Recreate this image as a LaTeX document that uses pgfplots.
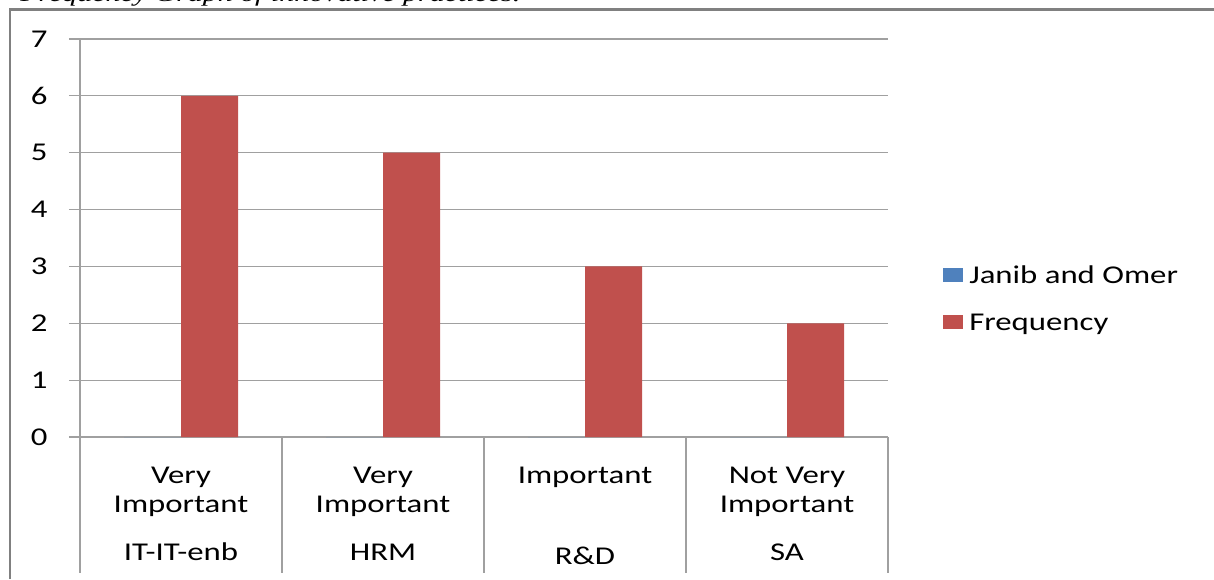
\documentclass[border=0pt]{standalone}
\usepackage{fontspec}
\setmainfont{Carlito}[FakeStretch=1.28]
\newfontfamily\titlefont{Liberation Serif}[FakeStretch=1.36]
\usepackage{pgfplots}
\pgfplotsset{compat=1.18}
\definecolor{barred}{HTML}{C0504D}
\definecolor{barblue}{HTML}{4F81BD}
\definecolor{gridgray}{HTML}{A0A0A0}
\definecolor{framegray}{HTML}{808080}
\newcommand\cf{\fontsize{12.8}{14.5}\selectfont}
\begin{document}
\begin{tikzpicture}
\useasboundingbox (0,0) rectangle (607pt,289.5pt);
\begin{scope}
\clip (0,285.6pt) rectangle (607pt,289.5pt);
\node[anchor=base west, inner sep=0pt] at (10pt,288.6pt) {\titlefont\itshape\fontsize{11}{13}\selectfont Frequency Graph of innovative practices.};
\end{scope}
\draw[framegray, line width=1.25pt] (5pt,0) -- (5pt,284.75pt) -- (607pt,284.75pt);
\begin{axis}[
  at={(40pt,71pt)}, anchor=south west,
  scale only axis, width=404pt, height=199pt,
  xmin=0, xmax=4, ymin=0, ymax=7,
  clip=false,
  axis x line*=bottom, axis y line*=left,
  axis line style={gridgray, line width=0.6pt, -},
  ytick={0,...,7},
  tick align=outside, major tick length=5.5pt,
  ytick style={gridgray, line width=0.6pt},
  xtick style={draw=none},
  xtick={0.5,1.5,2.5,3.5},
  xticklabels={{Very\\Important\\[9.5pt]IT-IT-enb},{Very\\Important\\[9.5pt]HRM},{Important\\[26pt]R\&D},{Not Very\\Important\\[9.5pt]SA}},
  xticklabel style={font=\cf, align=center, anchor=north, inner sep=0pt, yshift=-9.5pt},
  yticklabel style={font=\cf, anchor=east, inner sep=0pt, xshift=-10.5pt},
  /pgf/number format/assume math mode=true,
  ymajorgrids, major grid style={gridgray, line width=0.6pt},
  legend cell align=left,
  legend style={at={(1.068,0.348)}, anchor=west, draw=none, fill=none, inner sep=0pt,
    row sep=15.3pt, nodes={inner sep=0pt, text height=8.24pt, text depth=0pt, font=\cf},
    /tikz/every odd column/.append style={column sep=3pt}},
]
\addplot[ybar, bar width=28.5pt, bar shift=-14.25pt, fill=barblue, draw=none,
  legend image code/.code={\fill[barblue] (0pt,-3.5pt) rectangle (10pt,3.5pt);}]
  coordinates {(0.5,0) (1.5,0) (2.5,0) (3.5,0)};
\addlegendentry{Janib and Omer}
\addplot[ybar, bar width=28.5pt, bar shift=14.25pt, fill=barred, draw=none,
  legend image code/.code={\fill[barred] (0pt,-3.5pt) rectangle (10pt,3.5pt);}]
  coordinates {(0.5,6) (1.5,5) (2.5,3) (3.5,2)};
\addlegendentry{Frequency}
\pgfplotsinvokeforeach{0,1,2,3,4}{\draw[gridgray, line width=0.6pt] (axis cs:#1,0) -- ++(0pt,-68pt);}
\end{axis}
\end{tikzpicture}
\end{document}
